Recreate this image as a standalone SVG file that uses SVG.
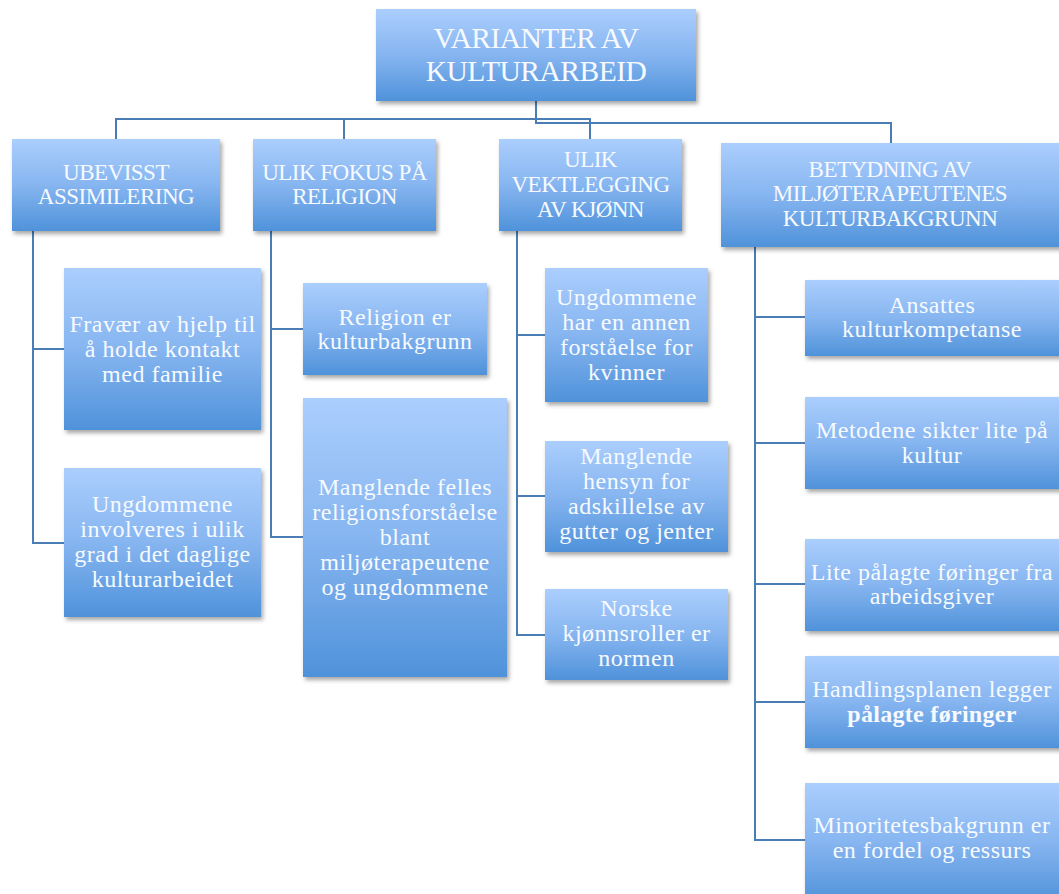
<svg xmlns="http://www.w3.org/2000/svg" width="1059" height="894" viewBox="0 0 1059 894">
<defs>
<linearGradient id="g" x1="0" y1="0" x2="0" y2="1">
<stop offset="0" stop-color="#abcefd"/>
<stop offset="0.5" stop-color="#86b5f0"/>
<stop offset="1" stop-color="#4f92da"/>
</linearGradient>
<filter id="sh" x="-10%" y="-10%" width="125%" height="130%">
<feDropShadow dx="2" dy="3" stdDeviation="2.2" flood-color="#000" flood-opacity="0.35"/>
</filter>
<style>
.box{fill:url(#g);filter:url(#sh)}
.t{font-family:"Liberation Serif","Times New Roman",serif;fill:#f7faff;text-anchor:middle}
.title{font-size:29.5px;letter-spacing:-0.5px}
.hd{font-size:23px;letter-spacing:-0.5px}
.bd{font-size:24px;letter-spacing:0.5px}
.b{font-weight:bold;letter-spacing:0.3px}
.c{fill:none;stroke:#4b7db5;stroke-width:2}
</style>
</defs>
<rect width="1059" height="894" fill="#ffffff"/>
<g id="connectors">
<path class="c" d="M536 101V119H116V139"/>
<path class="c" d="M536 101V119H344V139"/>
<path class="c" d="M536 101V119H590V139"/>
<path class="c" d="M536 101V123H891V143"/>
<path class="c" d="M33 231V349H64"/>
<path class="c" d="M33 231V543H64"/>
<path class="c" d="M271 231V329H303"/>
<path class="c" d="M271 231V537H303"/>
<path class="c" d="M517 231V335H545"/>
<path class="c" d="M517 231V496H545"/>
<path class="c" d="M517 231V635H545"/>
<path class="c" d="M755 247V317H805"/>
<path class="c" d="M755 247V443H805"/>
<path class="c" d="M755 247V584H805"/>
<path class="c" d="M755 247V702H805"/>
<path class="c" d="M755 247V840H805"/>
</g>
<g id="root">
<rect class="box" x="376" y="9" width="320" height="92"/>
<text class="t title" x="536" y="48">VARIANTER AV</text>
<text class="t title" x="536" y="81">KULTURARBEID</text>
</g>
<g id="h1">
<rect class="box" x="12" y="139" width="208" height="92"/>
<text class="t hd" x="116" y="180">UBEVISST</text>
<text class="t hd" x="116" y="204">ASSIMILERING</text>
</g>
<g id="h2">
<rect class="box" x="253" y="139" width="183" height="92"/>
<text class="t hd" x="344.5" y="180">ULIK FOKUS PÅ</text>
<text class="t hd" x="344.5" y="204">RELIGION</text>
</g>
<g id="h3">
<rect class="box" x="499" y="139" width="183" height="92"/>
<text class="t hd" x="590.5" y="167">ULIK</text>
<text class="t hd" x="590.5" y="192">VEKTLEGGING</text>
<text class="t hd" x="590.5" y="217">AV KJØNN</text>
</g>
<g id="h4">
<rect class="box" x="721" y="143" width="345" height="104"/>
<text class="t hd" x="890" y="177">BETYDNING AV</text>
<text class="t hd" x="890" y="201">MILJØTERAPEUTENES</text>
<text class="t hd" x="890" y="226">KULTURBAKGRUNN</text>
</g>
<g id="a1">
<rect class="box" x="64" y="268" width="197" height="162"/>
<text class="t bd" x="162.5" y="332">Fravær av hjelp til</text>
<text class="t bd" x="162.5" y="357">å holde kontakt</text>
<text class="t bd" x="162.5" y="382">med familie</text>
</g>
<g id="a2">
<rect class="box" x="64" y="468" width="197" height="149"/>
<text class="t bd" x="162.5" y="512">Ungdommene</text>
<text class="t bd" x="162.5" y="537">involveres i ulik</text>
<text class="t bd" x="162.5" y="562">grad i det daglige</text>
<text class="t bd" x="162.5" y="587">kulturarbeidet</text>
</g>
<g id="b1">
<rect class="box" x="303" y="283" width="184" height="92"/>
<text class="t bd" x="395" y="325">Religion er</text>
<text class="t bd" x="395" y="349">kulturbakgrunn</text>
</g>
<g id="b2">
<rect class="box" x="303" y="398" width="204" height="279"/>
<text class="t bd" x="405" y="495">Manglende felles</text>
<text class="t bd" x="405" y="520">religionsforståelse</text>
<text class="t bd" x="405" y="545">blant</text>
<text class="t bd" x="405" y="570">miljøterapeutene</text>
<text class="t bd" x="405" y="595">og ungdommene</text>
</g>
<g id="c1">
<rect class="box" x="545" y="268" width="163" height="134"/>
<text class="t bd" x="626.5" y="305">Ungdommene</text>
<text class="t bd" x="626.5" y="330">har en annen</text>
<text class="t bd" x="626.5" y="355">forståelse for</text>
<text class="t bd" x="626.5" y="380">kvinner</text>
</g>
<g id="c2">
<rect class="box" x="545" y="441" width="183" height="111"/>
<text class="t bd" x="636.5" y="464">Manglende</text>
<text class="t bd" x="636.5" y="489">hensyn for</text>
<text class="t bd" x="636.5" y="514">adskillelse av</text>
<text class="t bd" x="636.5" y="539">gutter og jenter</text>
</g>
<g id="c3">
<rect class="box" x="545" y="589" width="183" height="91"/>
<text class="t bd" x="636.5" y="616">Norske</text>
<text class="t bd" x="636.5" y="641">kjønnsroller er</text>
<text class="t bd" x="636.5" y="666">normen</text>
</g>
<g id="d1">
<rect class="box" x="805" y="280" width="260" height="76"/>
<text class="t bd" x="932" y="313">Ansattes</text>
<text class="t bd" x="932" y="337">kulturkompetanse</text>
</g>
<g id="d2">
<rect class="box" x="805" y="397" width="260" height="92"/>
<text class="t bd" x="932" y="438">Metodene sikter lite på</text>
<text class="t bd" x="932" y="463">kultur</text>
</g>
<g id="d3">
<rect class="box" x="805" y="539" width="260" height="92"/>
<text class="t bd" x="932" y="580">Lite pålagte føringer fra</text>
<text class="t bd" x="932" y="604">arbeidsgiver</text>
</g>
<g id="d4">
<rect class="box" x="805" y="656" width="260" height="92"/>
<text class="t bd" x="932" y="697">Handlingsplanen legger</text>
<text class="t bd b" x="932" y="722">pålagte føringer</text>
</g>
<g id="d5">
<rect class="box" x="805" y="783" width="260" height="120"/>
<text class="t bd" x="932" y="833">Minoritetesbakgrunn er</text>
<text class="t bd" x="932" y="858">en fordel og ressurs</text>
</g>
</svg>
